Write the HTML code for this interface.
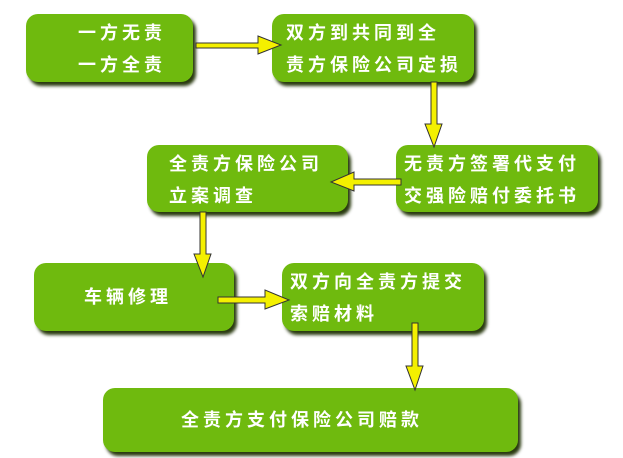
<!DOCTYPE html>
<html><head><meta charset="utf-8"><style>
body{margin:0;width:623px;height:458px;background:#fff;position:relative;overflow:hidden;font-family:"Liberation Sans","Noto Sans CJK SC",sans-serif}
.b{position:absolute;background:#6fba0e;border-radius:12px;box-shadow:3px 4px 3px #2a3a10;color:#fff;font-weight:bold;font-size:18px;letter-spacing:4px;line-height:32px;box-sizing:border-box}
svg{position:absolute;left:0;top:0}
</style></head><body>
<div class="b" style="left:26px;top:14px;width:167px;height:68px;padding:3px 0 0 52px">一方无责<br>一方全责</div>
<div class="b" style="left:272px;top:14px;width:202px;height:68px;padding:3px 0 0 14px">双方到共同到全<br>责方保险公司定损</div>
<div class="b" style="left:396px;top:145px;width:202px;height:67px;padding:3px 0 0 8px">无责方签署代支付<br>交强险赔付委托书</div>
<div class="b" style="left:147px;top:145px;width:201px;height:67px;padding:3px 0 0 22px">全责方保险公司<br>立案调查</div>
<div class="b" style="left:34px;top:263px;width:200px;height:68px;padding:18px 0 0 50px">车辆修理</div>
<div class="b" style="left:282px;top:263px;width:202px;height:68px;padding:3px 0 0 8px">双方向全责方提交<br>索赔材料</div>
<div class="b" style="left:103px;top:388px;width:415px;height:64px;padding:16px 0 0 78px">全责方支付保险公司赔款</div>
<svg width="623" height="458">
<g fill="#f4f000" stroke="#333" stroke-width="1">
<path d="M196,43 H258 V36 L281,45 L258,54 V48 H196 Z"/>
<path d="M431,82 V124 H425 L434,147 L442,124 H437 V82 Z"/>
<path d="M401,179 H354 V172 L331,182 L354,191 V185 H401 Z"/>
<path d="M200,212 V254 H194 L203,277 L211,254 H206 V212 Z"/>
<path d="M218,297 H265 V290 L289,300 L265,309 V303 H218 Z"/>
<path d="M412,323 V366 H406 L415,390 L423,366 H418 V323 Z"/>
</g></svg>
</body></html>
